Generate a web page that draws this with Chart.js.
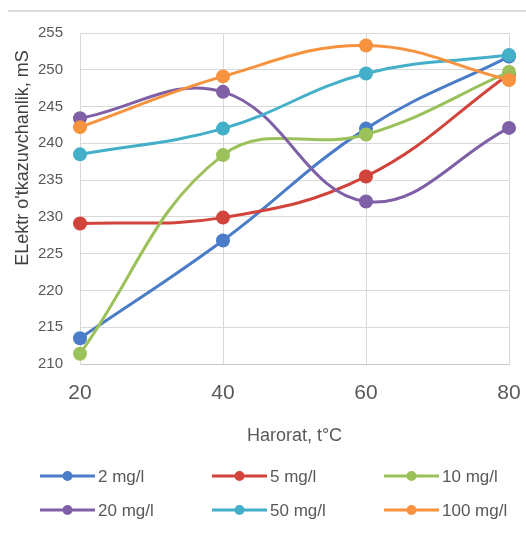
<!DOCTYPE html>
<html>
<head>
<meta charset="utf-8">
<script src="https://cdn.jsdelivr.net/npm/chart.js@4/dist/chart.umd.min.js"></script>
<style>
  html, body { margin: 0; padding: 0; background: #fff; }
  #wrap { position: relative; width: 526px; height: 535px; }
</style>
</head>
<body>
<div id="wrap"><canvas id="chart" width="526" height="535"></canvas></div>
<script>
// --- DATOS ---
const temps = ['20', '40', '60', '80'];
const seriesNames = ['2 mg/l', '5 mg/l', '10 mg/l', '20 mg/l', '50 mg/l', '100 mg/l'];
const s2 = [213.5, 226.8, 242.0, 251.8];
const s5 = [229.1, 229.9, 235.5, 249.4];
const s10 = [211.4, 238.4, 241.2, 249.7];
const s20 = [243.4, 247.0, 232.1, 242.1];
const s50 = [238.5, 242.0, 249.5, 252.0];
const s100 = [242.2, 249.1, 253.3, 248.6];
const yTitle = "ELektr o'tkazuvchanlik, mS";
const xTitle = 'Harorat, t°C';

const colors = ['#4A7CC7', '#D2433C', '#9BC15A', '#7F5FA6', '#44AFC9', '#F7923F'];
const allSeries = [s2, s5, s10, s20, s50, s100];

const datasets = allSeries.map((vals, i) => ({
    label: seriesNames[i],
    data: vals,
    borderColor: colors[i],
    backgroundColor: colors[i],
    pointBackgroundColor: colors[i],
    pointBorderColor: colors[i],
    borderWidth: 3,
    pointRadius: 7,
    pointBorderWidth: 0,
    tension: 0.4,
    clip: false,
    order: 6 - i // las series posteriores quedan encima, como en Excel
}));

// Línea superior, título Y y leyenda en 3 columnas
const extras = {
    id: 'extras',
    beforeDraw(chart) {
        const ctx = chart.ctx;
        ctx.save();
        ctx.fillStyle = '#dcdcdc';
        ctx.fillRect(8, 10, 518, 2);
        ctx.restore();
    },
    afterDraw(chart) {
        const ctx = chart.ctx;
        ctx.save();
        // título eje Y
        ctx.translate(23, 158);
        ctx.rotate(-Math.PI / 2);
        ctx.font = '18px "Liberation Sans", Arial, sans-serif';
        ctx.fillStyle = '#404040';
        ctx.textAlign = 'center';
        ctx.textBaseline = 'middle';
        ctx.fillText(yTitle, 0, 0);
        ctx.restore();

        // leyenda
        const colX = [40, 212, 384];
        const rowY = [476, 510];
        ctx.save();
        ctx.font = '17px "Liberation Sans", Arial, sans-serif';
        ctx.textBaseline = 'middle';
        ctx.textAlign = 'left';
        chart.data.datasets.forEach((ds, i) => {
            const x = colX[i % 3];
            const y = rowY[Math.floor(i / 3)];
            ctx.strokeStyle = ds.borderColor;
            ctx.lineWidth = 3;
            ctx.beginPath();
            ctx.moveTo(x, y);
            ctx.lineTo(x + 55, y);
            ctx.stroke();
            ctx.fillStyle = ds.borderColor;
            ctx.beginPath();
            ctx.arc(x + 27.5, y, 5, 0, Math.PI * 2);
            ctx.fill();
            ctx.fillStyle = '#595959';
            ctx.fillText(ds.label, x + 58, y + 1);
        });
        ctx.restore();
    }
};

new Chart(document.getElementById('chart'), {
    type: 'line',
    data: { labels: temps, datasets: datasets },
    plugins: [extras],
    options: {
        responsive: false,
        animation: false,
        layout: { padding: { top: 33, right: 17, bottom: 80, left: 0 } },
        plugins: { legend: { display: false }, tooltip: { enabled: false } },
        scales: {
            x: {
                offset: false,
                grid: { color: '#d9d9d9', drawTicks: false },
                border: { color: '#c8c8c8' },
                ticks: { color: '#595959', padding: 17, font: { family: '"Liberation Sans", Arial, sans-serif', size: 21 } },
                title: { display: true, text: xTitle, color: '#595959', padding: { top: 0, bottom: 8 }, font: { family: '"Liberation Sans", Arial, sans-serif', size: 18 } },
                afterFit: (s) => { s.height = 91; s.paddingLeft = 0; s.paddingRight = 0; }
            },
            y: {
                min: 210, max: 255,
                grid: { color: '#d9d9d9', drawTicks: false },
                border: { color: '#d9d9d9' },
                ticks: { stepSize: 5, color: '#595959', padding: 17, font: { family: '"Liberation Sans", Arial, sans-serif', size: 15 } },
                afterFit: (s) => { s.width = 80; s.paddingTop = 0; s.paddingBottom = 0; }
            }
        }
    }
});
</script>
</body>
</html>
